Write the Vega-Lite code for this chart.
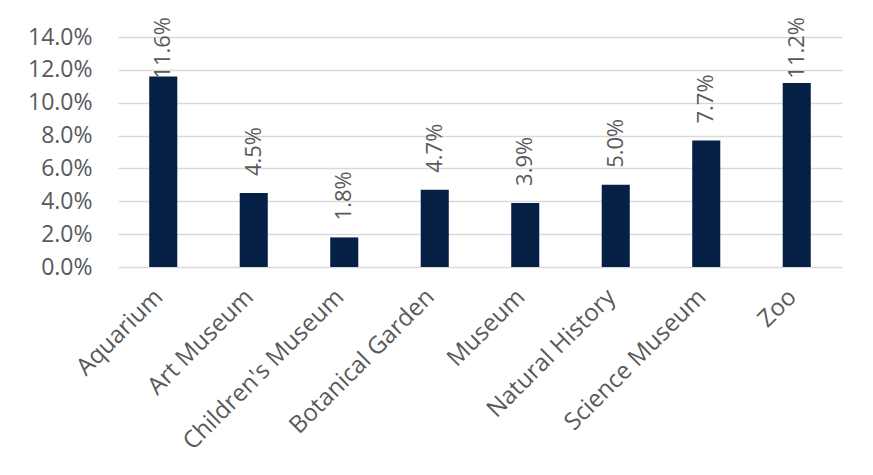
{
  "$schema": "https://vega.github.io/schema/vega-lite/v6.json",
  "width": 724,
  "height": 230,
  "autosize": {"type": "none"},
  "padding": {"left": 118, "top": 37, "right": 31, "bottom": 208},
  "background": "white",
  "config": {
    "view": {"stroke": null},
    "font": "Open Sans",
    "axis": {"labelFont": "Open Sans", "labelColor": "#595959"}
  },
  "data": {
    "values": [
      {"category": "Aquarium", "value": 0.116},
      {"category": "Art Museum", "value": 0.045},
      {"category": "Children's Museum", "value": 0.018},
      {"category": "Botanical Garden", "value": 0.047},
      {"category": "Museum", "value": 0.039},
      {"category": "Natural History", "value": 0.050},
      {"category": "Science Museum", "value": 0.077},
      {"category": "Zoo", "value": 0.112}
    ]
  },
  "encoding": {
    "x": {
      "field": "category",
      "type": "nominal",
      "sort": null,
      "scale": {"paddingInner": 0.69, "paddingOuter": 0.345},
      "axis": {
        "title": null,
        "labelAngle": -45,
        "labelAlign": "right",
        "labelBaseline": "middle",
        "labelFontSize": 24,
        "labelPadding": 26,
        "labelOffset": -4,
        "labelLimit": 0,
        "ticks": false,
        "domain": false
      }
    },
    "y": {
      "field": "value",
      "type": "quantitative",
      "scale": {"domain": [0, 0.14], "nice": false},
      "axis": {
        "title": null,
        "values": [0, 0.02, 0.04, 0.06, 0.08, 0.1, 0.12, 0.14],
        "format": ".1%",
        "labelFontSize": 23,
        "labelPadding": 26,
        "ticks": false,
        "domain": false,
        "gridColor": "#d9d9d9",
        "gridWidth": 1.5
      }
    }
  },
  "layer": [
    {"mark": {"type": "bar", "color": "#061F44"}},
    {
      "transform": [{"filter": "datum.value < 0.1"}],
      "mark": {
        "type": "text",
        "angle": 270,
        "align": "left",
        "baseline": "middle",
        "dx": 17,
        "fontSize": 22,
        "color": "#595959"
      },
      "encoding": {
        "text": {"field": "value", "type": "quantitative", "format": ".1%"}
      }
    },
    {
      "transform": [{"filter": "datum.value >= 0.1"}],
      "mark": {
        "type": "text",
        "angle": 270,
        "align": "right",
        "baseline": "middle",
        "dx": 20,
        "fontSize": 22,
        "color": "#595959"
      },
      "encoding": {
        "y": {"datum": 0.14, "type": "quantitative"},
        "text": {"field": "value", "type": "quantitative", "format": ".1%"}
      }
    }
  ]
}
